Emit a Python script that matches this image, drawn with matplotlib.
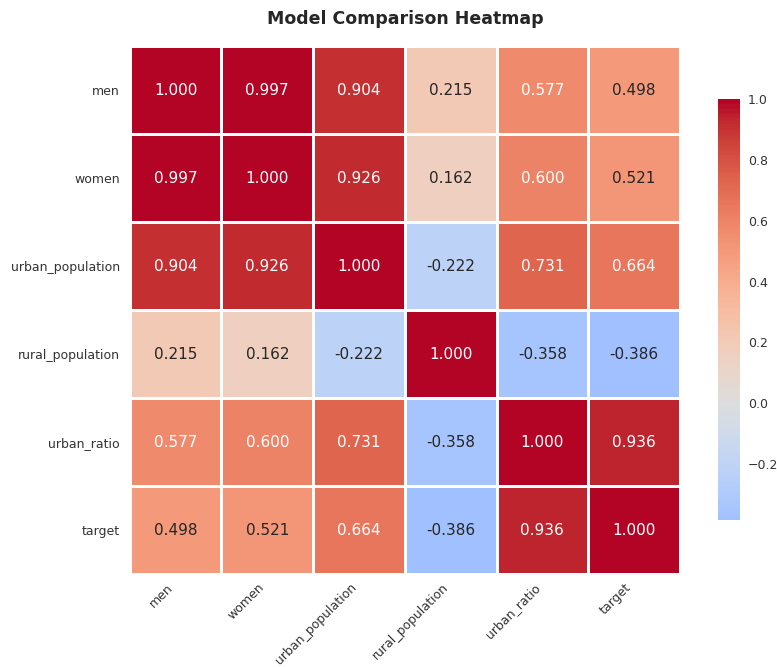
import numpy as np
import matplotlib
matplotlib.use("Agg")
import matplotlib.pyplot as plt
from matplotlib.colors import ListedColormap, Normalize

features = ["men", "women", "urban_population", "rural_population", "urban_ratio", "target"]

men = [1.000, 0.997, 0.904, 0.215, 0.577, 0.498]
women = [0.997, 1.000, 0.926, 0.162, 0.600, 0.521]
urban_population = [0.904, 0.926, 1.000, -0.222, 0.731, 0.664]
rural_population = [0.215, 0.162, -0.222, 1.000, -0.358, -0.386]
urban_ratio = [0.577, 0.600, 0.731, -0.358, 1.000, 0.936]
target = [0.498, 0.521, 0.664, -0.386, 0.936, 1.000]

corr = np.array([men, women, urban_population, rural_population, urban_ratio, target])

# centre coolwarm at zero, keep only the part of it the data spans
vmin, vmax = corr.min(), corr.max()
span = max(vmax, -vmin)
lo, hi = (vmin + span) / (2 * span), (vmax + span) / (2 * span)
base = plt.get_cmap("coolwarm")
cmap = ListedColormap(base(np.linspace(lo, hi, 256)))
norm = Normalize(vmin=vmin, vmax=vmax)

fig = plt.figure(figsize=(7.77, 6.67), dpi=100)
ax = fig.add_axes([0.167, 0.1394, 0.708, 0.7916])
cax = fig.add_axes([0.924, 0.220, 0.028, 0.631])

n = len(features)
mesh = ax.pcolormesh(np.arange(n + 1), np.arange(n + 1), corr, cmap=cmap, norm=norm,
                     edgecolors="white", linewidth=1.0)
ax.set_xlim(0, n)
ax.set_ylim(n, 0)


def luminance(rgba):
    rgb = np.array(rgba[:3])
    rgb = np.where(rgb <= 0.03928, rgb / 12.92, ((rgb + 0.055) / 1.055) ** 2.4)
    return 0.2126 * rgb[0] + 0.7152 * rgb[1] + 0.0722 * rgb[2]


for i in range(n):
    for j in range(n):
        v = corr[i, j]
        colour = cmap(norm(v))
        tc = "#262626" if luminance(colour) > 0.408 else "white"
        ax.text(j + 0.5, i + 0.5, f"{v:.3f}", ha="center", va="center",
                fontsize=11, color=tc)

ax.set_xticks(np.arange(n) + 0.5)
ax.set_yticks(np.arange(n) + 0.5)
ax.set_xticklabels(features, rotation=45, ha="right", fontsize=9, color="#333333")
ax.set_yticklabels(features, fontsize=9, color="#333333")
ax.tick_params(axis="x", length=0, pad=5)
ax.tick_params(axis="y", length=0, pad=7)
for s in ax.spines.values():
    s.set_visible(False)

ax.set_title("Model Comparison Heatmap", fontsize=12.5, fontweight="bold",
             color="#262626", pad=16)

cb = fig.colorbar(mesh, cax=cax)
cb.outline.set_visible(False)
cb.set_ticks([-0.2, 0.0, 0.2, 0.4, 0.6, 0.8, 1.0])
cb.ax.tick_params(length=0, labelsize=9, labelcolor="#333333", pad=6)

fig.savefig("out.png", dpi=100, facecolor="white")
